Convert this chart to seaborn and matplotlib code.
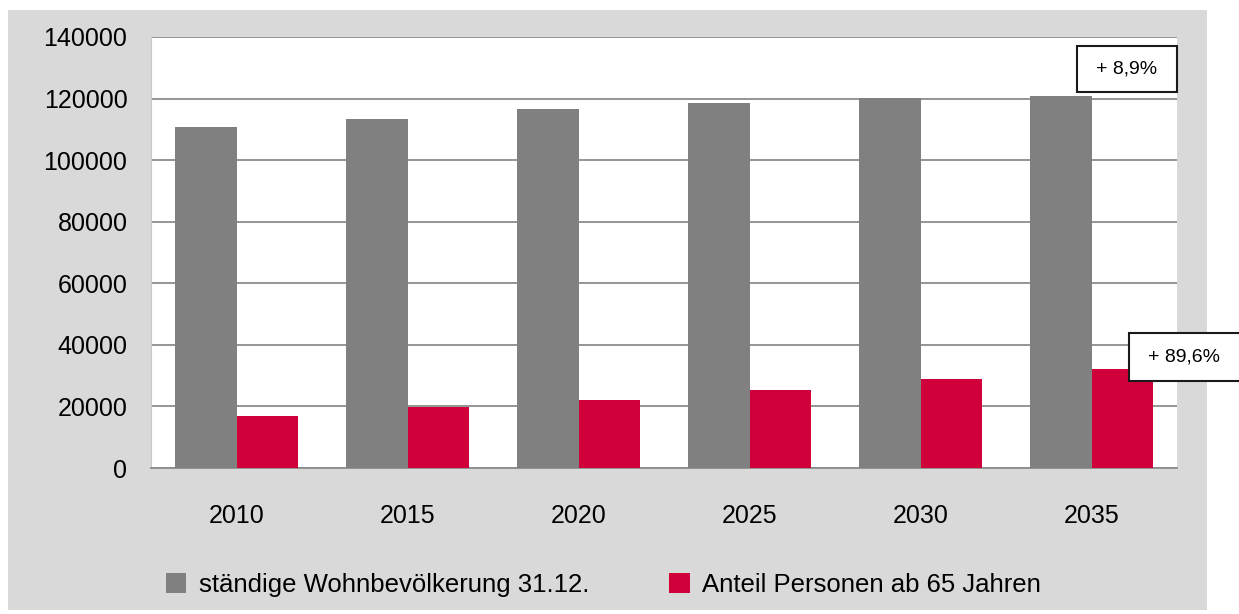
import matplotlib
matplotlib.use('Agg')
import matplotlib.pyplot as plt
from matplotlib.patches import Rectangle
import numpy as np
import pandas as pd
import seaborn as sns

years = ['2010', '2015', '2020', '2025', '2030', '2035']
bevoelkerung = [110800, 113400, 116600, 118500, 120200, 120700]
ab65 = [16800, 19800, 22100, 25300, 28900, 32000]
series_names = ['ständige Wohnbevölkerung 31.12.', 'Anteil Personen ab 65 Jahren']
colors = ['#808080', '#d0003a']

df = pd.DataFrame({
    'Jahr': years * 2,
    'Wert': bevoelkerung + ab65,
    'Serie': [series_names[0]] * len(years) + [series_names[1]] * len(years),
})

sns.set_style('white')
plt.rcParams['font.family'] = ['Liberation Sans', 'DejaVu Sans']
plt.rcParams['text.color'] = 'black'
plt.rcParams['xtick.color'] = 'black'
plt.rcParams['ytick.color'] = 'black'

fig = plt.figure(figsize=(12.39, 6.14), dpi=100)
fig.patch.set_facecolor('white')
# grauer Hintergrund wie im Original
fig.patches.append(Rectangle((8 / 1239, 4 / 614), 1199 / 1239, 600 / 614,
                             transform=fig.transFigure, facecolor='#d9d9d9',
                             edgecolor='none', zorder=-5))

ax = fig.add_axes([151 / 1239, 1 - 468 / 614, 1026 / 1239, 431 / 614])
ax.set_facecolor('white')
sns.barplot(data=df, x='Jahr', y='Wert', hue='Serie', palette=colors,
            width=0.725, gap=0, saturation=1, ax=ax, legend=True, zorder=3,
            edgecolor='none')

ax.set_ylim(0, 140000)
ax.set_yticks(np.arange(0, 140001, 20000))
ax.yaxis.grid(True, color='#8c8c8c', linewidth=1.3, zorder=0)
ax.set_axisbelow(True)
ax.set_xlabel('')
ax.set_ylabel('')
ax.tick_params(axis='both', labelsize=18, length=0, pad=17)
ax.tick_params(axis='x', pad=26)
for s in ['top', 'right']:
    ax.spines[s].set_visible(False)
ax.spines['left'].set_color('#c8c8c8')
ax.spines['bottom'].set_color('#8c8c8c')
ax.spines['bottom'].set_linewidth(1.3)

handles, labels = ax.get_legend_handles_labels()
ax.get_legend().remove()
fig.legend(handles, labels, loc='center', bbox_to_anchor=(0.487, 1 - 585 / 614),
           ncol=2, frameon=False, fontsize=18.5, handlelength=0.8, handleheight=0.8,
           handletextpad=0.5, columnspacing=3.1)

# Annotationen
fig.patches.append(Rectangle((1077 / 1239, 1 - 92 / 614), 100 / 1239, 46 / 614,
                             transform=fig.transFigure, facecolor='white',
                             edgecolor='#1a1a1a', linewidth=1.5, zorder=5))
fig.text(1127 / 1239, 1 - 69 / 614, '+ 8,9%', ha='center', va='center',
         fontsize=14, zorder=6)
fig.patches.append(Rectangle((1129 / 1239, 1 - 381 / 614), 130 / 1239, 48 / 614,
                             transform=fig.transFigure, facecolor='white',
                             edgecolor='#1a1a1a', linewidth=1.5, zorder=5))
fig.text(1148 / 1239, 1 - 357 / 614, '+ 89,6%', ha='left', va='center',
         fontsize=14, zorder=6)

plt.savefig('out.png', dpi=100)
plt.close()
